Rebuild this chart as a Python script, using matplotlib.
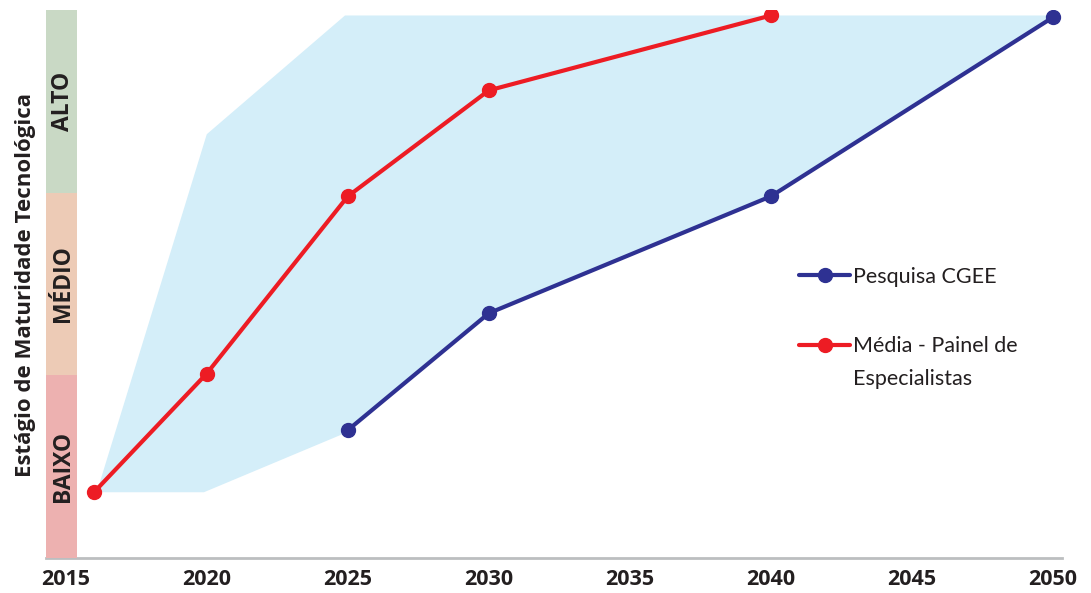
import matplotlib
matplotlib.use("Agg")
import matplotlib.pyplot as plt
from matplotlib.patches import Rectangle, Polygon

# ---- data ----
red_years = [2016, 2020, 2025, 2030, 2040]
red_vals = [0.36, 1.01, 1.98, 2.56, 2.97]
blue_years = [2025, 2030, 2040, 2050]
blue_vals = [0.70, 1.34, 1.98, 2.96]
shade_upper_years = [2016.1, 2020.0, 2024.9, 2050]
shade_upper_vals = [0.36, 2.32, 2.97, 2.97]
shade_lower_years = [2016.1, 2019.9, 2025, 2030, 2040, 2050]
shade_lower_vals = [0.36, 0.36, 0.69, 1.34, 1.98, 2.96]
levels = ["BAIXO", "MÉDIO", "ALTO"]
level_colors = ["#EDB1B0", "#EDCBB6", "#C9D9C5"]
xticks = [2015, 2020, 2025, 2030, 2035, 2040, 2045, 2050]
series_labels = ["Pesquisa CGEE", "Média - Painel de", "Especialistas"]

RED = "#ED1C24"
BLUE = "#2E3192"
TXT = "#231F20"

plt.rcParams['font.family'] = ['Lato', 'DejaVu Sans']
BOLD = ['Open Sans', 'DejaVu Sans']

W, H = 1091, 593
fig = plt.figure(figsize=(W / 100, H / 100), dpi=100)
ax = fig.add_axes([46 / W, 1 - 558 / H, (1062 - 46) / W, (558 - 10) / H])

ax.set_xlim(2014.30, 2050.32)
ax.set_ylim(0, 3)

# shaded envelope
poly_pts = list(zip(shade_upper_years, shade_upper_vals)) + \
    list(zip(shade_lower_years[::-1], shade_lower_vals[::-1]))
ax.add_patch(Polygon(poly_pts, closed=True, facecolor="#D4EEF9",
                     edgecolor="none", zorder=1))

# level band on left
band_x0, band_w = 2014.30, 1.10
for i, (lab, col) in enumerate(zip(levels, level_colors)):
    ax.add_patch(Rectangle((band_x0, i), band_w, 1, facecolor=col,
                           edgecolor="none", zorder=3, clip_on=False))
    ax.text(band_x0 + band_w * 0.55, i + 0.5, lab, rotation=90, ha="center",
            va="center", fontsize=16.5, fontweight="bold", color=TXT,
            zorder=4, family=BOLD)

ax.plot(blue_years, blue_vals, color=BLUE, lw=3, marker="o", ms=10,
        zorder=5, label=series_labels[0], solid_capstyle="round")
ax.plot(red_years, red_vals, color=RED, lw=3, marker="o", ms=10,
        zorder=6, label=series_labels[1], solid_capstyle="round")

for s in ["top", "right", "left"]:
    ax.spines[s].set_visible(False)
ax.spines["bottom"].set_color("#BCBEC0")
ax.spines["bottom"].set_linewidth(2)
ax.spines["bottom"].set_zorder(2)

ax.set_yticks([])
ax.set_xticks(xticks)
ax.set_xticklabels([str(t) for t in xticks], fontsize=15.5,
                   fontweight="bold", color=TXT, family=BOLD)
ax.tick_params(axis="x", length=0, pad=8)

fig.text(26 / W, 1 - 285 / H, "Estágio de Maturidade Tecnológica",
         rotation=90, ha="center", va="center", fontsize=16,
         fontweight="bold", color=TXT, family=BOLD)

leg = ax.legend(loc="upper left", bbox_to_anchor=(788 / W, 1 - 256 / H),
                bbox_transform=fig.transFigure, frameon=False,
                fontsize=15.5, handlelength=2.4, handletextpad=0.12,
                labelspacing=2.3, labelcolor=TXT, borderpad=0)
fig.canvas.draw()
bb = leg.get_texts()[1].get_window_extent()
fig.text(bb.x0 / W, (bb.y0 - 33) / H, series_labels[2], fontsize=15.5,
         color=TXT, ha="left", va="bottom")

fig.savefig("out.png", dpi=100)
